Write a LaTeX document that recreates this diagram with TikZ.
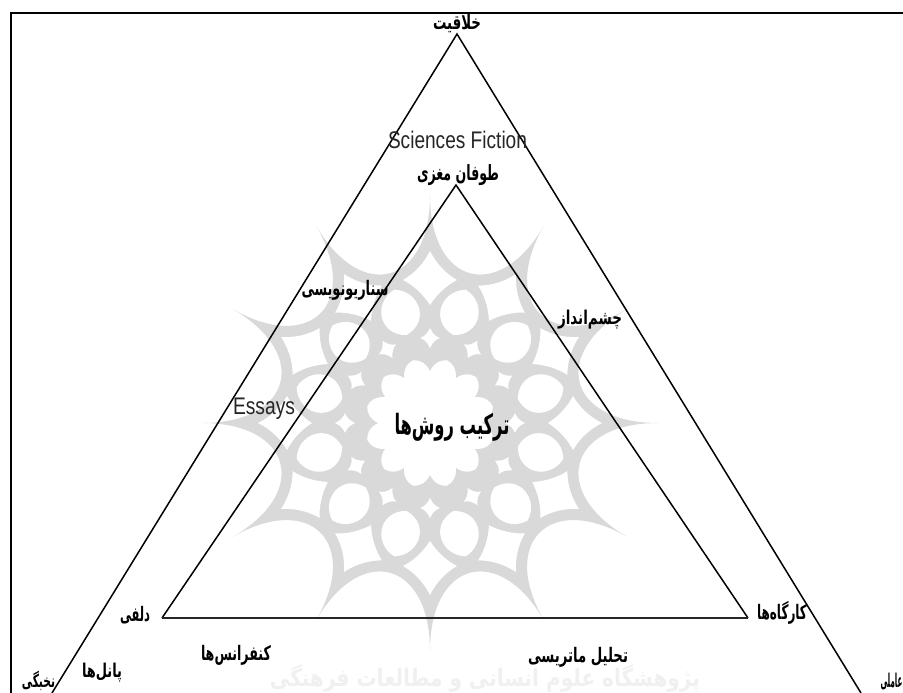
\documentclass[tikz,border=0pt]{standalone}
\usepackage{fontspec}
\usepackage{graphicx}
\setmainfont{Liberation Sans}
\newfontfamily\fafont[Script=Arabic]{DejaVu Sans}
\TeXXeTstate=1
\definecolor{wm}{gray}{0.85}
\definecolor{wmtext}{gray}{0.94}
\definecolor{latin}{gray}{0.15}
\newcommand{\per}[3]{\resizebox{#1pt}{\height}{\fontsize{#2}{#2}\fafont\bfseries #3}}
\newcommand{\lat}[2]{\resizebox{#1pt}{\height}{\fontsize{24}{24}\selectfont #2}}
\tikzset{
  lab/.style={inner sep=0pt,outer sep=0pt,text=black,anchor=center},
  latinlab/.style={inner sep=0pt,outer sep=0pt,text=latin},
  edge/.style={draw=black,line width=1.5pt,line join=miter},
  base/.style={draw=black!85,line width=2pt},
  frameline/.style={draw=black,line width=2.5pt}
}
\begin{document}
\begin{tikzpicture}[x=1pt,y=-1pt]
\useasboundingbox (0,0) rectangle (903,693);
\fill[white] (0,0) rectangle (903,693);
% watermark
\begin{scope}[shift={(430,423)}]
  \fill[wm] (90:228)
    \foreach \a in {60,30,0,-30,-60,-90,-120,-150,-180,-210,-240,-270}{
      .. controls (\a+30:138) and (\a:138) .. (\a:228)
    } -- cycle;
  \foreach \k in {0,30,...,330}{
    \begin{scope}[rotate=\k]
      % kite
      \fill[white] (0,-172) .. controls (-6,-160) and (-15,-150) .. (-27,-143)
        .. controls (-17,-138) and (-7,-129) .. (0,-118)
        .. controls (7,-129) and (17,-138) .. (27,-143)
        .. controls (15,-150) and (6,-160) .. (0,-172) -- cycle;
      % small diamond
      \fill[white] (0,-95) .. controls (3,-89) and (5,-87) .. (10,-85)
        .. controls (5,-83) and (3,-81) .. (0,-75)
        .. controls (-3,-81) and (-5,-83) .. (-10,-85)
        .. controls (-5,-87) and (-3,-89) .. (0,-95) -- cycle;
    \end{scope}
    \begin{scope}[rotate=\k+15]
      % almond
      \fill[white] (0,-138) .. controls (24,-131) and (27,-98) .. (0,-91)
        .. controls (-27,-98) and (-24,-131) .. (0,-138) -- cycle;
      % petal of the central flower
      \fill[white] (0,-65) .. controls (14,-62) and (16,-46) .. (12,-34)
        -- (-12,-34) .. controls (-16,-46) and (-14,-62) .. (0,-65) -- cycle;
    \end{scope}
  }
  \fill[white] (0,0) circle [radius=46];
\end{scope}
\node[lab,text=wmtext] (wmcaption) at (485,679) {\per{430}{24}{\beginR پژوهشگاه علوم انسانی و مطالعات فرهنگی\endR}};
% frame
\coordinate (fa) at (11,693);
\coordinate (fb) at (11,13);
\coordinate (fc) at (903,13);
\draw[frameline] (fa) -- (fb) -- (fc);
% triangles
\coordinate (oa) at (457,34);
\coordinate (ol) at (52,693);
\coordinate (or) at (861,693);
\coordinate (ia) at (456,185);
\coordinate (il) at (162,618);
\coordinate (ir) at (748,618);
\draw[edge] (ol) -- (oa) -- (or);
\draw[edge] (il) -- (ia) -- (ir);
\draw[base] (il) -- (ir);
% labels
\node[lab] (creat) at (457,24) {\per{48}{20}{\beginR خلاقیت\endR}};
\node[latinlab] (scifi) at (457.5,140) {\lat{139}{Sciences Fiction}};
\node[lab] (brain) at (458,175) {\per{82}{21}{\beginR طوفان مغزی\endR}};
\node[lab] (scen) at (345,290) {\per{87}{20}{\beginR سناریونویسی\endR}};
\node[latinlab] (essays) at (264,409) {\lat{62}{Essays}};
\node[lab] (vision) at (590,320) {\per{64}{19}{\beginR چشم‌انداز\endR}};
\node[lab] (combo) at (452,427) {\per{115}{28}{\beginR ترکیب روش‌ها\endR}};
\node[lab] (delphi) at (135,615) {\per{30}{20}{\beginR دلفی\endR}};
\node[lab] (works) at (782,613) {\per{50}{20}{\beginR کارگاه‌ها\endR}};
\node[lab] (conf) at (236,655) {\per{70}{20}{\beginR کنفرانس‌ها\endR}};
\node[lab] (matrix) at (578,657) {\per{100}{20}{\beginR تحلیل ماتریسی\endR}};
\node[lab] (panels) at (102,673) {\per{40}{19}{\beginR پانل‌ها\endR}};
\node[lab] (elite) at (38.5,681) {\per{33}{18}{\beginR نخبگی\endR}};
\node[lab,anchor=east] (inter) at (902.5,681) {\per{22}{19}{\beginR عاملی\endR}};
\end{tikzpicture}
\end{document}
